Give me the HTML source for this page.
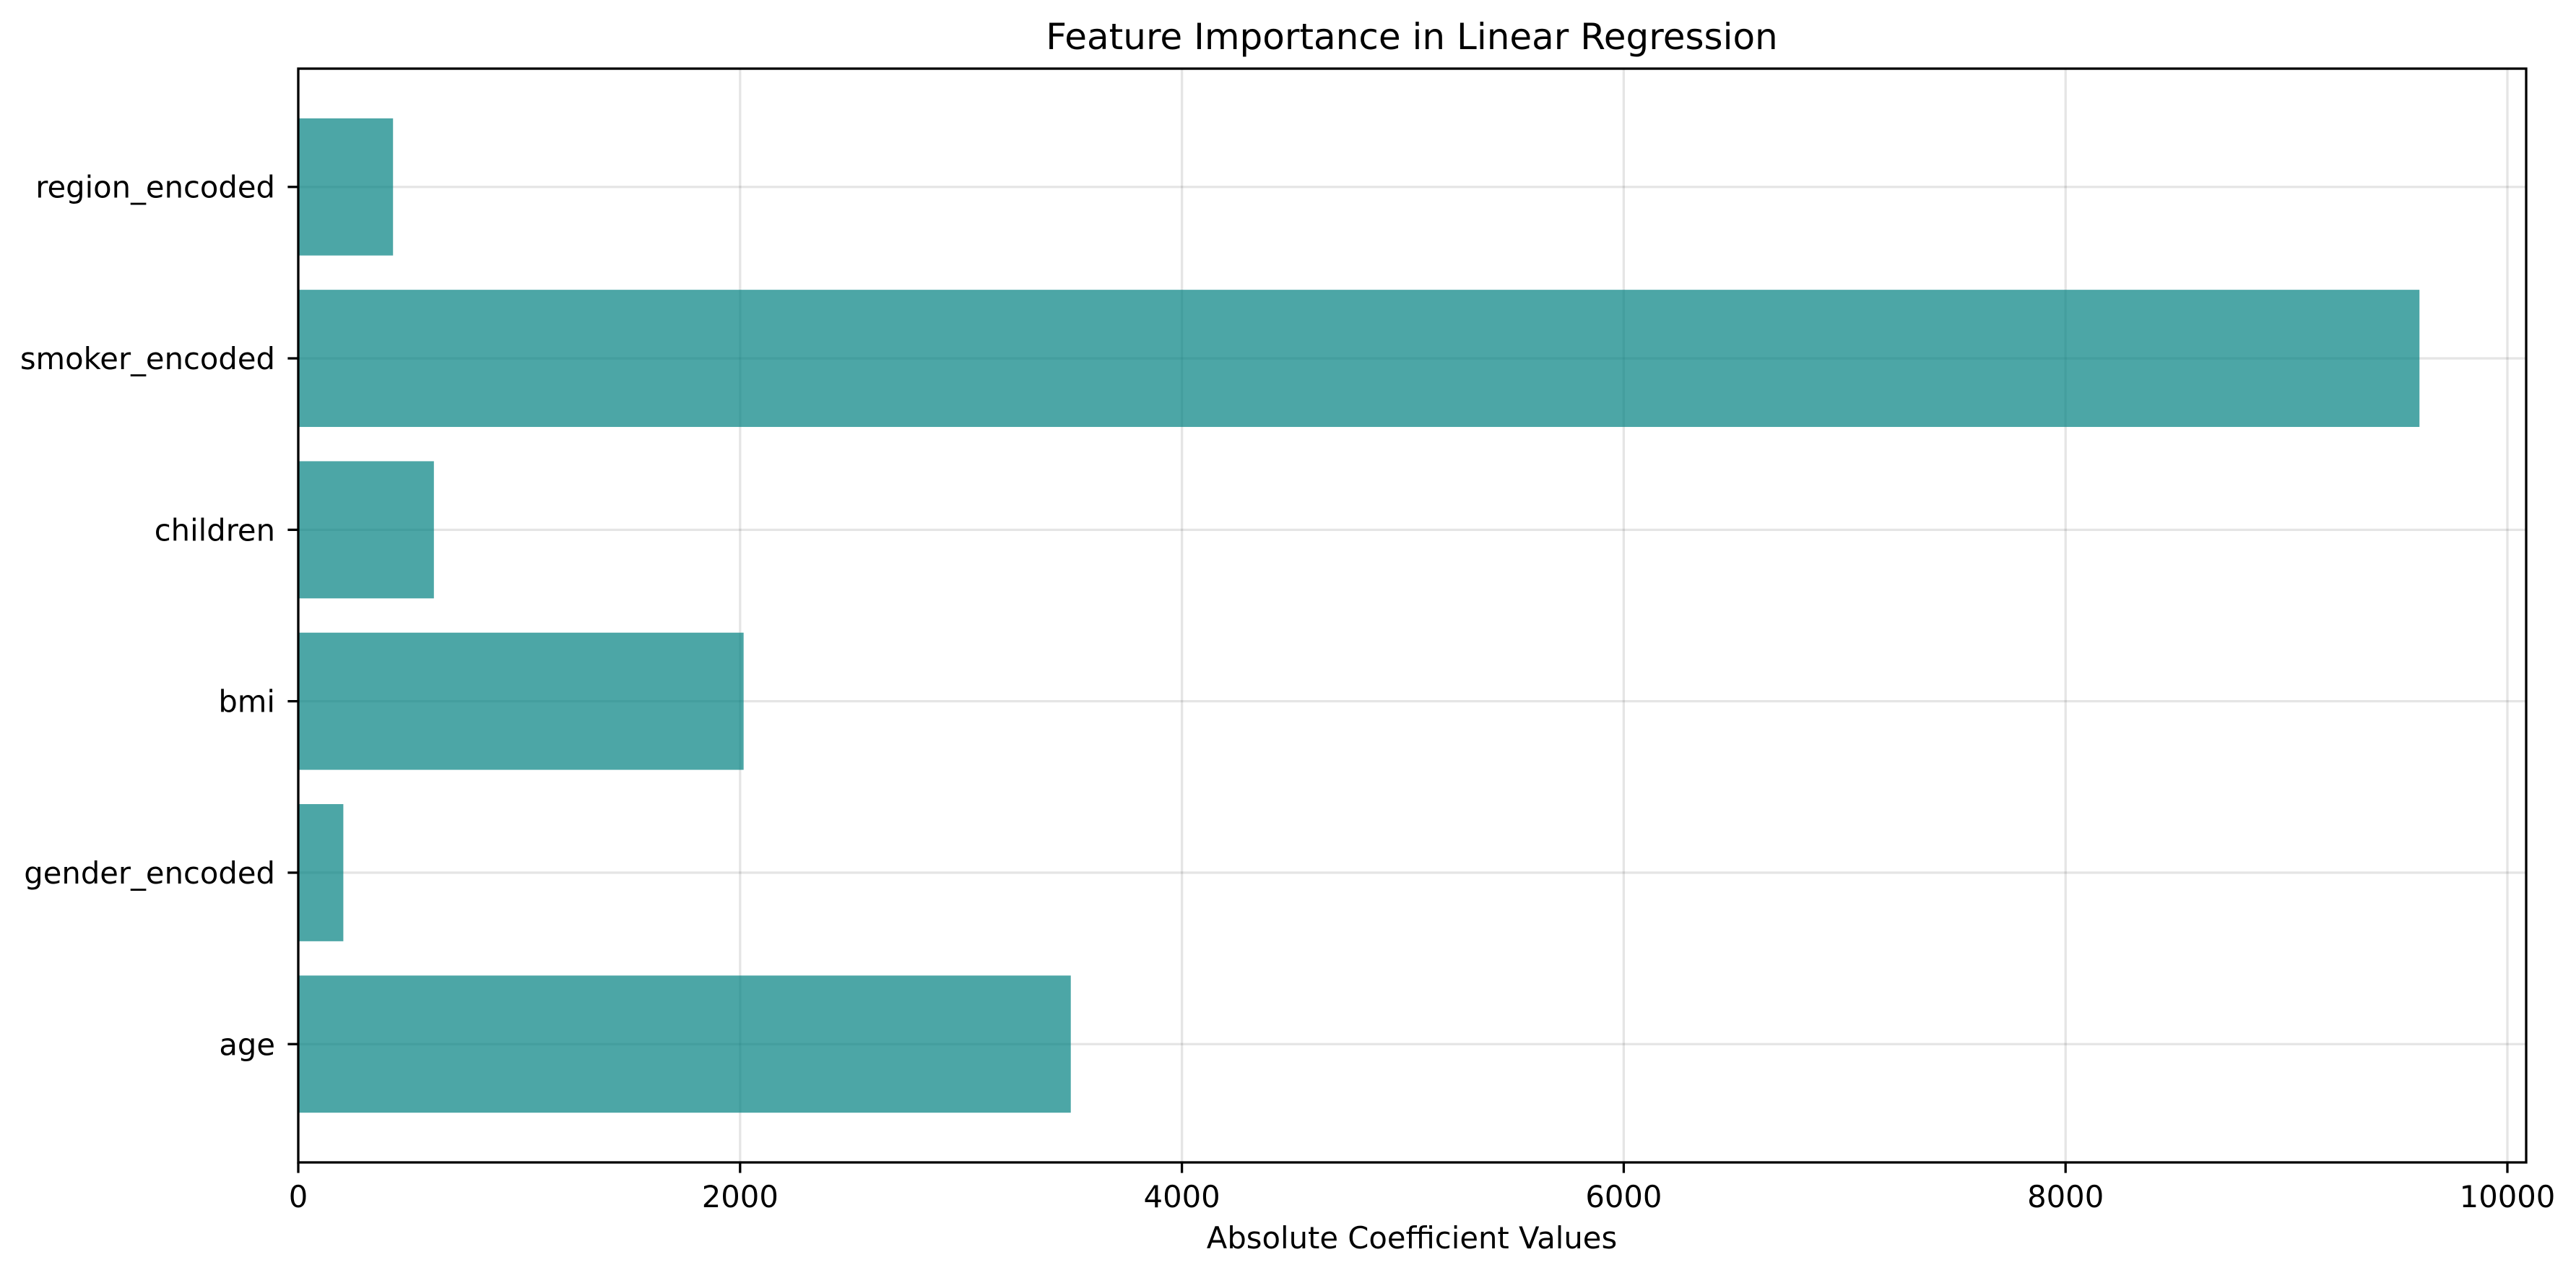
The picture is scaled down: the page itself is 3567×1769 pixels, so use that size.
<!DOCTYPE html>
<html><head><meta charset="utf-8"><style>
html,body{margin:0;padding:0;background:#fff;}
svg{display:block;font-family:"DejaVu Sans","Liberation Sans",sans-serif;}
</style></head><body>
<svg id="chart" width="3567" height="1769" viewBox="0 0 3567 1769" xmlns="http://www.w3.org/2000/svg">
<rect width="3567" height="1769" fill="#fff"/>
<text x="1955" y="68" font-size="50" text-anchor="middle" fill="#000">Feature Importance in Linear Regression</text>
<text x="1955" y="1728" font-size="41.7" text-anchor="middle" fill="#000">Absolute Coefficient Values</text>
<g id="grid"></g>
<g id="bars"></g>
<g id="axes"></g>
</svg>
<script>
const categories = ["age","gender_encoded","bmi","children","smoker_encoded","region_encoded"];
const values = [3497, 204, 2016, 614, 9602, 429];
const xTicks = [0, 2000, 4000, 6000, 8000, 10000];
const xTickLabels = ["0","2000","4000","6000","8000","10000"];

const NS = "http://www.w3.org/2000/svg";
const L = 413, R = 3498, T = 95, B = 1609;
const xMax = 10085;
const yMin = -0.69, yMax = categories.length - 1 + 0.69;
function xs(v){ return L + (v / xMax) * (R - L); }
function ys(i){ return B - (i - yMin) / (yMax - yMin) * (B - T); }
const band = (B - T) / (yMax - yMin);
function mk(tag, attrs, parent){ const e = document.createElementNS(NS, tag); for (const k in attrs) e.setAttribute(k, attrs[k]); parent.appendChild(e); return e; }
const grid = document.getElementById('grid'), bars = document.getElementById('bars'), axes = document.getElementById('axes');

xTicks.forEach((t, i) => {
  const g = mk('line', {x1: xs(t), x2: xs(t), y1: T, y2: B, stroke: '#000', 'stroke-opacity': 0.1, 'stroke-width': 3.3}, grid);
  
  
  const tk = mk('line', {x1: xs(t), x2: xs(t), y1: B, y2: B + 14.6, stroke: '#000', 'stroke-width': 3.3}, axes);
  
  
  const tx = mk('text', {x: xs(t), y: 1671, 'font-size': 41.7, 'text-anchor': 'middle', fill: '#000'}, axes);
  tx.textContent = xTickLabels[i];
  
  
});
categories.forEach((c, i) => {
  const g = mk('line', {x1: L, x2: R, y1: ys(i), y2: ys(i), stroke: '#000', 'stroke-opacity': 0.1, 'stroke-width': 3.3}, grid);
  
  
});
categories.forEach((c, i) => {
  const h = band * 0.8;
  const r = mk('rect', {x: xs(0), y: ys(i) - h / 2, width: xs(values[i]) - xs(0), height: h, fill: 'teal', 'fill-opacity': 0.7}, bars);
  
  
  const tk = mk('line', {x1: L - 14.6, x2: L, y1: ys(i), y2: ys(i), stroke: '#000', 'stroke-width': 3.3}, axes);
  
  
  const tx = mk('text', {x: 381, y: ys(i) + 15, 'font-size': 41.7, 'text-anchor': 'end', fill: '#000'}, axes);
  tx.textContent = c;
  
  
});
const frame = mk('rect', {x: L, y: T, width: R - L, height: B - T, fill: 'none', stroke: '#000', 'stroke-width': 3.3}, axes);


</script>
</body></html>
